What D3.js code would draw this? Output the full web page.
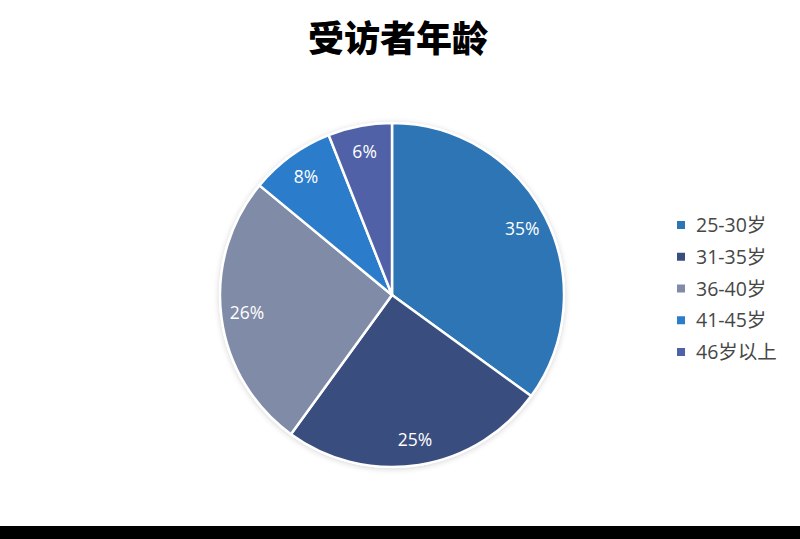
<!DOCTYPE html>
<html>
<head>
<meta charset="utf-8">
<script src="https://cdn.jsdelivr.net/npm/d3@7"></script>
<style>
html,body{margin:0;padding:0;background:#fff;overflow:hidden;}
svg{display:block;}
</style>
</head>
<body>
<svg id="chart" width="800" height="539"></svg>
<script>
const title = "受访者年龄";
const categories = ["25-30岁", "31-35岁", "36-40岁", "41-45岁", "46岁以上"];
const values = [35, 25, 26, 8, 6];
const colors = ["#2E75B6", "#3A4D7F", "#7F8BA7", "#2B7CCB", "#5061A8"];

const svg = d3.select("#chart");
const W = 800, H = 539;

svg.append("rect").attr("x",0).attr("y",0).attr("width",W).attr("height",H).attr("fill","#fff");

// Title
svg.append("text")
  .attr("x", 398).attr("y", 52)
  .attr("text-anchor", "middle")
  .attr("font-family", "'Noto Sans CJK SC', sans-serif")
  .attr("font-weight", 900)
  .attr("font-size", 36)
  .attr("fill", "#000")
  .text(title);

const cx = 392, cy = 295, R = 172;

const defs = svg.append("defs");
const f = defs.append("filter").attr("id","glow").attr("x","-20%").attr("y","-20%").attr("width","140%").attr("height","140%");
f.append("feGaussianBlur").attr("in","SourceAlpha").attr("stdDeviation",3).attr("result","b");
f.append("feOffset").attr("in","b").attr("dx",0).attr("dy",1).attr("result","o");
f.append("feComponentTransfer").attr("in","o").attr("result","s")
  .append("feFuncA").attr("type","linear").attr("slope",0.18);
const m = f.append("feMerge");
m.append("feMergeNode").attr("in","s");
m.append("feMergeNode").attr("in","SourceGraphic");

const data = categories.map((c,i)=>({cat:c, value:values[i], color:colors[i]}));
const pie = d3.pie().value(d=>d.value).sort(null);
const arcs = pie(data);
const arc = d3.arc().innerRadius(0).outerRadius(R);
const labelArc = d3.arc().innerRadius(R*0.85).outerRadius(R*0.85);
const color = d3.scaleOrdinal().domain(categories).range(colors);

const g = svg.append("g").attr("transform", `translate(${cx},${cy})`);
g.append("circle").attr("r", R+1).attr("fill","#fff").attr("filter","url(#glow)");
g.selectAll("path.slice").data(arcs).enter().append("path")
  .attr("class","slice")
  .attr("d", arc)
  .attr("fill", d=>color(d.data.cat))
  .attr("stroke", "#fff")
  .attr("stroke-width", 2.5)
  .attr("stroke-linejoin","round");

const total = d3.sum(values);
g.selectAll("text.lbl").data(arcs).enter().append("text")
  .attr("class","lbl")
  .attr("transform", d=>`translate(${labelArc.centroid(d)})`)
  .attr("text-anchor","middle")
  .attr("dy","0.35em")
  .attr("font-family","'Open Sans', 'Noto Sans', sans-serif")
  .attr("font-size",17.5)
  .attr("fill","#fff")
  .text(d=>Math.round(d.data.value/total*100)+"%");

// Legend
const ly = d3.scalePoint().domain(categories).range([225, 352]);
const lg = svg.append("g");
const items = lg.selectAll("g").data(data).enter().append("g")
  .attr("transform", d=>`translate(677,${ly(d.cat)})`);
items.append("rect").attr("x",0).attr("y",-4).attr("width",8).attr("height",8)
  .attr("fill", d=>color(d.cat));
items.append("text").attr("x",19).attr("y",0).attr("dy","0.36em")
  .attr("font-family","'Open Sans', 'Noto Sans CJK SC', sans-serif")
  .attr("font-size",19.5)
  .attr("fill","#474747")
  .text(d=>d.cat);

// bottom black bar
svg.append("rect").attr("x",0).attr("y",526).attr("width",W).attr("height",H-526).attr("fill","#000");
</script>
</body>
</html>
